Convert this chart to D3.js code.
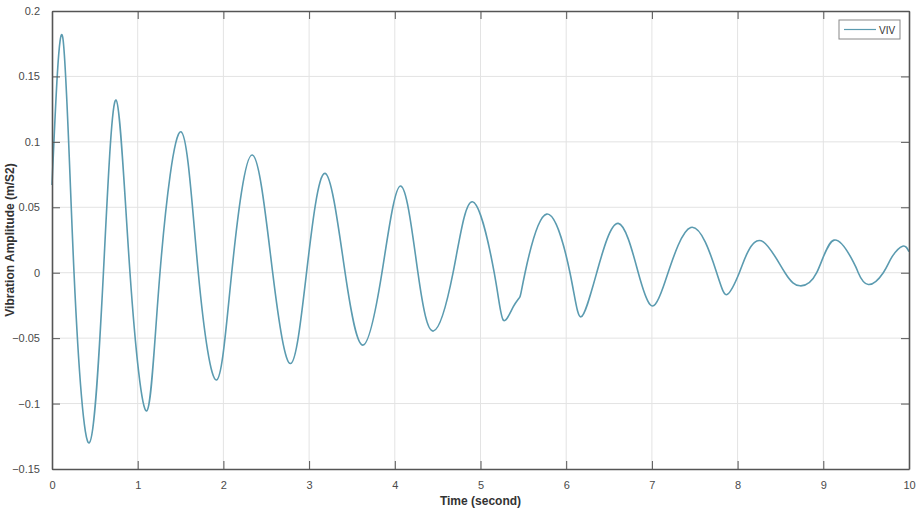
<!DOCTYPE html>
<html>
<head>
<meta charset="utf-8">
<script src="https://cdn.jsdelivr.net/npm/d3@7"></script>
<style>
  body { margin: 0; background: #fff; }
  svg { display: block; }
  .axis text { font-family: "Liberation Sans", Arial, sans-serif; font-size: 11px; fill: #4a4a4a; }
  .axis path, .axis line { stroke: #555; }
</style>
</head>
<body>
<svg></svg>
<script>
// values
let times = [0, 0.125, 0.257, 0.435, 0.6, 0.747, 0.91, 1.105, 1.26, 1.505, 1.707, 1.92,
  2.097, 2.337, 2.575, 2.785, 2.97, 3.186, 3.42, 3.63, 3.85, 4.07, 4.27, 4.45, 4.68,
  4.905, 5.16, 5.266, 5.383, 5.46, 5.52, 5.772, 6.044, 6.173, 6.356, 6.608, 6.841,
  6.978, 7.133, 7.453, 7.756, 7.884, 8.02, 8.12, 8.30, 8.553, 8.728,
  8.923, 9.125, 9.35, 9.408, 9.525, 9.70, 9.798, 9.926, 10.0];

let amplitude = [0.067, 0.180, 0, -0.130, 0, 0.132, 0, -0.1056, 0, 0.1077, 0, -0.082,
  0, 0.0899, 0, -0.0694, 0, 0.0759, 0, -0.0553, 0, 0.0662, 0, -0.0446, 0,
  0.0542, 0, -0.0362, -0.026, -0.0184, 0, 0.0448, 0, -0.0337, 0, 0.0377, 0,
  -0.0243, -0.0108, 0.0346, 0, -0.0164, 0, 0.016, 0.0236, 0, -0.0100,
  0, 0.0249, 0.0083, 0, -0.0090, 0, 0.0117, 0.0203, 0.016];

let xTicks = [0, 1, 2, 3, 4, 5, 6, 7, 8, 9, 10];
let yTicks = [-0.15, -0.1, -0.05, 0, 0.05, 0.1, 0.15, 0.2];
let seriesName = 'VIV';

// configuration of svg/plot area
let config = { svg: {}, margin: {}, plot: {} };
config.svg.width = 921;
config.svg.height = 514;

config.margin.top = 11;
config.margin.right = 12;
config.margin.bottom = 45;
config.margin.left = 52;

config.plot.x = config.margin.left;
config.plot.y = config.margin.top;
config.plot.width = config.svg.width - config.margin.left - config.margin.right;
config.plot.height = config.svg.height - config.margin.top - config.margin.bottom;

let svg = d3.select('svg')
  .attr('width', config.svg.width)
  .attr('height', config.svg.height);

let plot = svg.append('g')
  .attr('id', 'plot')
  .attr('transform', translate(config.plot.x, config.plot.y));

// scales
let scale = {};
scale.x = d3.scaleLinear().domain([0, 10]).range([0, config.plot.width]);
scale.y = d3.scaleLinear().domain([-0.15, 0.2]).range([config.plot.height, 0]);

// grid
plot.append('g').selectAll('line')
  .data(xTicks.slice(1, -1))
  .join('line')
  .attr('x1', d => scale.x(d)).attr('x2', d => scale.x(d))
  .attr('y1', 0).attr('y2', config.plot.height)
  .attr('stroke', '#e3e3e3');

plot.append('g').selectAll('line')
  .data(yTicks.slice(1, -1))
  .join('line')
  .attr('x1', 0).attr('x2', config.plot.width)
  .attr('y1', d => scale.y(d)).attr('y2', d => scale.y(d))
  .attr('stroke', '#e3e3e3');

// data line
let data = times.map((t, i) => ({ t: t, v: amplitude[i] }));

let line = d3.line()
  .x(d => scale.x(d.t))
  .y(d => scale.y(d.v))
  .curve(d3.curveNatural);

plot.append('path')
  .datum(data)
  .attr('d', line)
  .attr('fill', 'none')
  .attr('stroke', '#5b9bb0')
  .attr('stroke-width', 1.6);

// axes, ticks pointing inward like matlab
let fmt = d => d3.format('')(+d.toFixed(2));

let axis = {};
axis.bottom = d3.axisBottom(scale.x).tickValues(xTicks).tickSizeInner(-8).tickSizeOuter(0).tickPadding(12).tickFormat(fmt);
axis.left = d3.axisLeft(scale.y).tickValues(yTicks).tickSizeInner(-8).tickSizeOuter(0).tickPadding(12).tickFormat(fmt);
axis.top = d3.axisTop(scale.x).tickValues(xTicks).tickSizeInner(-8).tickSizeOuter(0).tickFormat('');
axis.right = d3.axisRight(scale.y).tickValues(yTicks).tickSizeInner(-8).tickSizeOuter(0).tickFormat('');

plot.append('g').attr('class', 'axis')
  .attr('transform', translate(0, config.plot.height))
  .call(axis.bottom);
plot.append('g').attr('class', 'axis')
  .call(axis.left);
plot.append('g').attr('class', 'axis')
  .call(axis.top);
plot.append('g').attr('class', 'axis')
  .attr('transform', translate(config.plot.width, 0))
  .call(axis.right);

plot.selectAll('.axis path').attr('stroke-width', 1.6);

// axis titles
svg.append('text')
  .attr('x', config.plot.x + config.plot.width / 2)
  .attr('y', 505)
  .attr('text-anchor', 'middle')
  .style('font-family', '"Liberation Sans", Arial, sans-serif')
  .style('font-weight', 'bold')
  .style('font-size', '12px')
  .style('fill', '#333')
  .text('Time (second)');

svg.append('text')
  .attr('transform', 'translate(14,' + (config.plot.y + config.plot.height / 2) + ') rotate(-90)')
  .attr('text-anchor', 'middle')
  .style('font-family', '"Liberation Sans", Arial, sans-serif')
  .style('font-weight', 'bold')
  .style('font-size', '12px')
  .style('fill', '#333')
  .text('Vibration Amplitude (m/S2)');

// legend
let legend = svg.append('g').attr('transform', translate(839, 20));
legend.append('rect')
  .attr('width', 61).attr('height', 19)
  .attr('fill', '#fff')
  .attr('stroke', '#888')
  .attr('stroke-width', 1);
legend.append('line')
  .attr('x1', 5).attr('x2', 37)
  .attr('y1', 9.5).attr('y2', 9.5)
  .attr('stroke', '#5b9bb0')
  .attr('stroke-width', 1.2);
legend.append('text')
  .attr('x', 40).attr('y', 13.5)
  .style('font-family', '"Liberation Sans", Arial, sans-serif')
  .style('font-size', '10px')
  .style('fill', '#333')
  .text(seriesName);

// helper method to make translating easier
function translate(x, y) {
  return 'translate(' + x + ',' + y + ')';
}
</script>
</body>
</html>
